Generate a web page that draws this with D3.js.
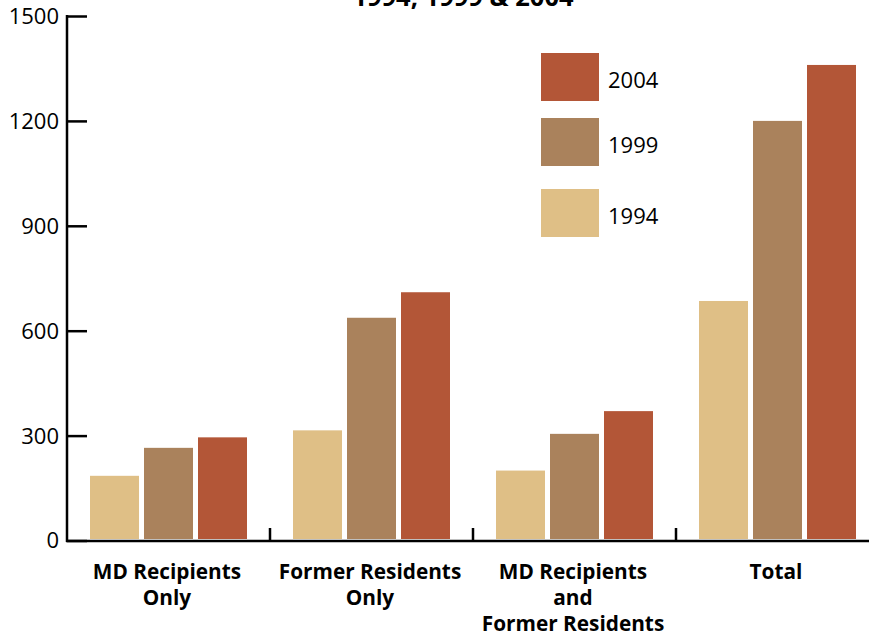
<!DOCTYPE html>
<html><head><meta charset="utf-8">
<script src="https://cdn.jsdelivr.net/npm/d3@7"></script>
<style>
body{margin:0;background:#fff;}
svg{display:block;font-family:"Open Sans",Lato,sans-serif;}
</style></head>
<body>
<svg id="c" width="869" height="641"></svg>
<script>
const categories = [["MD Recipients","Only"],["Former Residents","Only"],["MD Recipients","and","Former Residents"],["Total"]];
const years = ["1994","1999","2004"];
const v1994 = [185, 315, 200, 685];
const v1999 = [265, 637, 305, 1200];
const v2004 = [295, 710, 370, 1360];
const yTicks = [0,300,600,900,1200,1500];
const colors = ["#DFBF86","#AA825C","#B35637"];
const title = "1994, 1999 & 2004";

const series = [v1994, v1999, v2004];
const svg = d3.select("#c");
const x0 = d3.scaleBand().domain(d3.range(categories.length)).range([67, 879]).paddingInner(0).paddingOuter(0);
const bw = 49, gap = 5;
const x1 = d3.scaleBand().domain(years).range([0, 3*bw+2*gap]).paddingInner(gap/(bw+gap)).paddingOuter(0);
const y = d3.scaleLinear().domain([0,1500]).range([540.5,16]);

svg.append("text").attr("x",463).attr("y",6).attr("text-anchor","middle")
  .attr("font-weight","bold").attr("font-size",25.5).text(title);

// bars
const groups = svg.append("g").selectAll("g").data(categories).join("g")
  .attr("transform",(d,i)=>`translate(${x0(i)+(x0.bandwidth()-(3*bw+2*gap))/2},0)`);
groups.selectAll("rect").data((d,i)=>years.map((yr,k)=>({yr,k,v:series[k][i]}))).join("rect")
  .attr("x",d=>x1(d.yr)).attr("width",x1.bandwidth())
  .attr("y",d=>y(d.v)).attr("height",d=>539-y(d.v))
  .attr("fill",d=>colors[d.k]);

// y axis
const ya = svg.append("g").attr("transform","translate(67,0)")
  .call(d3.axisRight(y).tickValues(yTicks).tickSize(20).tickFormat(""));
ya.select(".domain").remove();
ya.selectAll("line").attr("stroke","#000").attr("stroke-width",2.5);
svg.append("line").attr("x1",67).attr("x2",67).attr("y1",15).attr("y2",542).attr("stroke","#000").attr("stroke-width",2.5);
svg.append("g").selectAll("text").data(yTicks).join("text")
  .attr("x",59).attr("y",d=>y(d)).attr("dy","0.36em").attr("text-anchor","end")
  .attr("font-size",22).text(d=>d);

// x axis
svg.append("line").attr("x1",66).attr("x2",869).attr("y1",541).attr("y2",541).attr("stroke","#000").attr("stroke-width",2.5);
svg.append("g").selectAll("line").data(d3.range(1,categories.length)).join("line")
  .attr("x1",i=>x0(i)).attr("x2",i=>x0(i)).attr("y1",541).attr("y2",528)
  .attr("stroke","#000").attr("stroke-width",2.5);
const labs = svg.append("g").selectAll("text").data(categories).join("text")
  .attr("x",(d,i)=>x0(i)+x0.bandwidth()/2-1.5).attr("y",579)
  .attr("text-anchor","middle").attr("font-weight","bold").attr("font-size",20.8);
labs.selectAll("tspan").data(d=>d).join("tspan")
  .attr("x",function(){return d3.select(this.parentNode).attr("x");})
  .attr("dy",(d,j)=>j===0?0:26).text(d=>d);

// legend
const leg = [{k:2,yT:53},{k:1,yT:118},{k:0,yT:189}];
const lg = svg.append("g").selectAll("g").data(leg).join("g");
lg.append("rect").attr("x",541).attr("y",d=>d.yT).attr("width",58).attr("height",48).attr("fill",d=>colors[d.k]);
lg.append("text").attr("x",608).attr("y",d=>d.yT+35).attr("font-size",22).text(d=>years[d.k]);
</script>
</body></html>
